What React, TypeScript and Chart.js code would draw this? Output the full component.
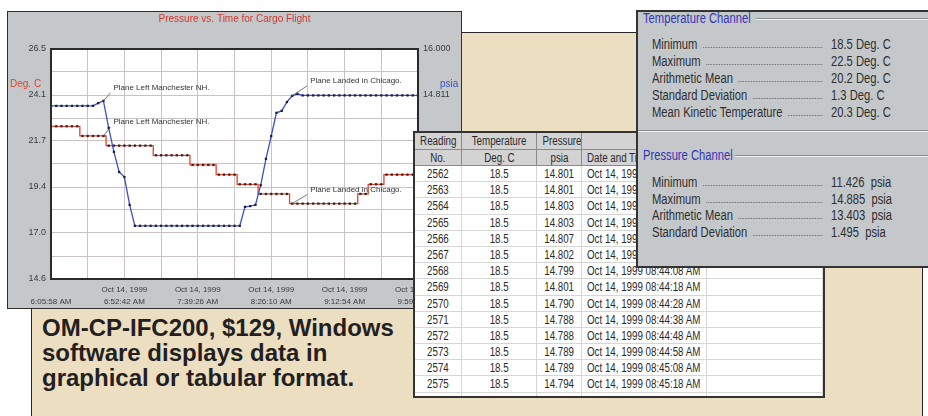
import React, { useEffect, useRef } from "react";
import { Chart, registerables } from "chart.js";

Chart.register(...registerables);

// ---------------- chart data ----------------
const temperatureC = [
  22.5, 22.5, 22.5, 22.5, 22.5, 22.5,
  22.0, 22.0, 22.0, 22.0, 22.0,
  21.5, 21.5, 21.5, 21.5, 21.5, 21.5, 21.5, 21.5, 21.5,
  21.0, 21.0, 21.0, 21.0, 21.0, 21.0, 21.0,
  20.5, 20.5, 20.5, 20.5, 20.5,
  20.0, 20.0, 20.0, 20.0,
  19.5, 19.5, 19.5, 19.5,
  19.0, 19.0, 19.0, 19.0, 19.0, 19.0,
  18.5, 18.5, 18.5, 18.5, 18.5, 18.5, 18.5, 18.5, 18.5, 18.5, 18.5, 18.5, 18.5,
  19.0, 19.0,
  19.5, 19.5, 19.5,
  20.0, 20.0, 20.0, 20.0, 20.0, 20.0, 20.0,
];

const pressurePsia = [
  14.53, 14.53, 14.53, 14.53, 14.53, 14.53, 14.53, 14.53, 14.53,
  14.6, 14.66, 13.96, 13.34, 12.82, 12.69, 11.97,
  11.43, 11.43, 11.43, 11.43, 11.43, 11.43, 11.43, 11.43, 11.43, 11.43, 11.43,
  11.43, 11.43, 11.43, 11.43, 11.43, 11.43, 11.43, 11.43, 11.43, 11.43,
  11.92, 11.94, 11.97, 12.48, 13.16, 13.75, 14.35, 14.4, 14.63, 14.79, 14.84,
  14.8, 14.8, 14.8, 14.8, 14.8, 14.8, 14.8, 14.8, 14.8, 14.8, 14.8, 14.8,
  14.8, 14.8, 14.8, 14.8, 14.8, 14.8, 14.8, 14.8, 14.8, 14.8, 14.8,
];

const xGridSamples = [0, 7, 14, 21, 28, 35, 42, 49, 56, 63, 70];
const xTickDates = ["", "Oct 14, 1999", "Oct 14, 1999", "Oct 14, 1999", "Oct 14, 1999", "Oct 14, 1999"];
const xTickTimes = ["6:05:58 AM", "6:52:42 AM", "7:39:26 AM", "8:26:10 AM", "9:12:54 AM", "9:59:38 AM"];

const leftAxisMin = 14.6;
const leftAxisMax = 26.5;
const leftTickLabels = ["14.6", "17.0", "19.4", "21.7", "24.1", "26.5"];
const rightAxisMin = 10.055;
const rightAxisMax = 16.0;
const rightTickLabels = ["10.055", "11.244", "12.433", "13.622", "14.811", "16.000"];

const chartTitle = "Pressure vs. Time for Cargo Flight";
const leftAxisTitle = "Deg. C";
const rightAxisTitle = "psia";

const annotationTexts = [
  "Plane Left Manchester NH.",
  "Plane Left Manchester NH.",
  "Plane Landed in Chicago.",
  "Plane Landed in Chicago.",
];
const annotationSeries = ["pressure", "temperature", "pressure", "temperature"];
const annotationSample = [10, 10, 46, 46];

// ---------------- table / statistics data ----------------
const readingNos = [2562, 2563, 2564, 2565, 2566, 2567, 2568, 2569, 2570, 2571, 2572, 2573, 2574, 2575, 2576];
const readingTemps = ["18.5", "18.5", "18.5", "18.5", "18.5", "18.5", "18.5", "18.5", "18.5", "18.5", "18.5", "18.5", "18.5", "18.5", "18.5"];
const readingPressures = ["14.801", "14.801", "14.803", "14.803", "14.807", "14.802", "14.799", "14.801", "14.790", "14.788", "14.788", "14.789", "14.789", "14.794", "14.794"];
const readingTimes = [
  "Oct 14, 1999 08:43:08 AM", "Oct 14, 1999 08:43:18 AM", "Oct 14, 1999 08:43:28 AM",
  "Oct 14, 1999 08:43:38 AM", "Oct 14, 1999 08:43:48 AM", "Oct 14, 1999 08:43:58 AM",
  "Oct 14, 1999 08:44:08 AM", "Oct 14, 1999 08:44:18 AM", "Oct 14, 1999 08:44:28 AM",
  "Oct 14, 1999 08:44:38 AM", "Oct 14, 1999 08:44:48 AM", "Oct 14, 1999 08:44:58 AM",
  "Oct 14, 1999 08:45:08 AM", "Oct 14, 1999 08:45:18 AM", "Oct 14, 1999 08:45:28 AM",
];

const tempStatLabels = ["Minimum", "Maximum", "Arithmetic Mean", "Standard Deviation", "Mean Kinetic Temperature"];
const tempStatValues = ["18.5 Deg. C", "22.5 Deg. C", "20.2 Deg. C", "1.3 Deg. C", "20.3 Deg. C"];
const pressStatLabels = ["Minimum", "Maximum", "Arithmetic Mean", "Standard Deviation"];
const pressStatValues = ["11.426  psia", "14.885  psia", "13.403  psia", "1.495  psia"];

const captionLines = ["OM-CP-IFC200, $129, Windows", "software displays data in", "graphical or tabular format."];

// ---------------- styles ----------------
const SANS = '"Liberation Sans", Arial, Helvetica, sans-serif';
const WIN_GRAY = "#c4c8cb";
const GRID = "#cbc3c3";
const TICK = "#3a3a3a";
const annotationOffsets = [[10, -13], [10, -14], [18, -15], [18, -14]];

const decorPlugin = {
  id: "decor",
  beforeDraw(chart: any) {
    const { ctx, chartArea: a } = chart;
    ctx.save();
    ctx.fillStyle = "#ffffff";
    ctx.fillRect(a.left, a.top, a.right - a.left, a.bottom - a.top);
    ctx.restore();
  },
  afterDatasetsDraw(chart: any) {
    const { ctx } = chart;
    const xs = chart.scales.x;
    ctx.save();
    ctx.font = `8px ${SANS}`;
    ctx.textAlign = "left";
    ctx.textBaseline = "middle";
    annotationTexts.forEach((t, k) => {
      const idx = annotationSample[k];
      const isP = annotationSeries[k] === "pressure";
      const ys = isP ? chart.scales.y2 : chart.scales.y;
      const val = isP ? pressurePsia[idx] : temperatureC[idx];
      const px = xs.getPixelForValue(idx);
      const py = ys.getPixelForValue(val);
      const [dx, dy] = annotationOffsets[k];
      ctx.strokeStyle = "#555";
      ctx.lineWidth = 0.8;
      ctx.beginPath();
      ctx.moveTo(px, py);
      ctx.lineTo(px + dx - 3, py + dy + 5);
      ctx.stroke();
      ctx.fillStyle = "#333";
      ctx.fillText(t, px + dx, py + dy);
    });
    ctx.restore();
  },
  afterDraw(chart: any) {
    const { ctx, chartArea: a, width } = chart;
    ctx.save();
    ctx.strokeStyle = "#2a2a2a";
    ctx.lineWidth = 2;
    ctx.strokeRect(a.left, a.top, a.right - a.left, a.bottom - a.top);
    ctx.textBaseline = "middle";
    ctx.font = `10px ${SANS}`;
    ctx.fillStyle = "#d23a2c";
    ctx.textAlign = "center";
    ctx.fillText(chartTitle, width / 2, 7);
    ctx.textAlign = "left";
    ctx.fillStyle = "#e4402a";
    ctx.fillText(leftAxisTitle, 2, 72.5);
    ctx.fillStyle = "#3b4fd0";
    ctx.fillText(rightAxisTitle, 432, 72);
    ctx.restore();
  },
};

function ChartWindow() {
  const ref = useRef<HTMLCanvasElement>(null);
  useEffect(() => {
    Chart.defaults.font.family = SANS;
    const chart = new Chart(ref.current as HTMLCanvasElement, {
      type: "line",
      data: {
        datasets: [
          {
            label: "Pressure",
            data: pressurePsia.map((v, i) => ({ x: i, y: v })),
            yAxisID: "y2",
            borderColor: "#3d4fc6",
            borderWidth: 1.3,
            pointStyle: "rect",
            pointRadius: 1.6,
            pointBorderWidth: 0,
            pointBackgroundColor: "#1c1c3a",
            tension: 0,
          },
          {
            label: "Temperature",
            data: temperatureC.map((v, i) => ({ x: i, y: v })),
            yAxisID: "y",
            borderColor: "#e2442c",
            borderWidth: 1.3,
            stepped: "middle",
            pointStyle: "rect",
            pointRadius: 1.6,
            pointBorderWidth: 0,
            pointBackgroundColor: "#3a1c1c",
          },
        ],
      },
      options: {
        responsive: false,
        animation: false,
        devicePixelRatio: 1,
        events: [],
        layout: { padding: { top: 37, left: 0, right: 0, bottom: 0 } },
        plugins: { legend: { display: false }, tooltip: { enabled: false }, title: { display: false } },
        scales: {
          x: {
            type: "linear",
            min: 0,
            max: 70,
            afterBuildTicks: (s: any) => {
              s.ticks = xGridSamples.map((v) => ({ value: v }));
            },
            afterFit: (s: any) => {
              s.height = 29;
            },
            grid: { color: GRID, lineWidth: 1, drawTicks: false },
            border: { display: false },
            ticks: {
              autoSkip: false,
              maxRotation: 0,
              padding: 5,
              color: TICK,
              font: { size: 8, lineHeight: 1.45 },
              callback: (_v: any, i: number) => (i % 2 === 0 ? [xTickDates[i / 2], xTickTimes[i / 2]] : ""),
            },
          },
          y: {
            type: "linear",
            position: "left",
            min: leftAxisMin,
            max: leftAxisMax,
            afterBuildTicks: (s: any) => {
              s.ticks = Array.from({ length: 11 }, (_, k) => ({ value: leftAxisMin + (k * (leftAxisMax - leftAxisMin)) / 10 }));
            },
            afterFit: (s: any) => {
              s.width = 43;
            },
            grid: { color: GRID, lineWidth: 1, drawTicks: false },
            border: { display: false },
            ticks: {
              padding: 5,
              color: TICK,
              font: { size: 9 },
              callback: (_v: any, i: number) => (i % 2 === 0 ? leftTickLabels[i / 2] : ""),
            },
          },
          y2: {
            type: "linear",
            position: "right",
            min: rightAxisMin,
            max: rightAxisMax,
            afterBuildTicks: (s: any) => {
              s.ticks = Array.from({ length: 11 }, (_, k) => ({ value: rightAxisMin + (k * (rightAxisMax - rightAxisMin)) / 10 }));
            },
            afterFit: (s: any) => {
              s.width = 43;
            },
            grid: { display: false, drawTicks: false },
            border: { display: false },
            ticks: {
              padding: 5,
              color: TICK,
              font: { size: 9 },
              callback: (_v: any, i: number) => (i % 2 === 0 ? rightTickLabels[i / 2] : ""),
            },
          },
        },
      } as any,
      plugins: [decorPlugin],
    });
    return () => chart.destroy();
  }, []);
  return (
    <div
      style={{
        position: "absolute",
        left: 7,
        top: 11,
        width: 453,
        height: 296,
        border: "1px solid #2e2e2e",
        background: WIN_GRAY,
        zIndex: 2,
      }}
    >
      <canvas ref={ref} width={453} height={296} style={{ display: "block", width: 453, height: 296 }} />
    </div>
  );
}

// horizontally condensed text (the screenshot's UI font is narrow and tall)
function Sq({ children, origin }: any) {
  return (
    <span
      style={{
        display: "inline-block",
        transform: "scaleX(0.78)",
        transformOrigin: origin || "center",
        whiteSpace: "pre",
      }}
    >
      {children}
    </span>
  );
}

const colWidths = [47, 75, 45, 125, 116];

function Cell({ w, children, align, bg, h }: any) {
  return (
    <div
      style={{
        width: w,
        height: h,
        lineHeight: `${h}px`,
        boxSizing: "border-box",
        borderRight: bg ? "1px solid #8a8a8a" : "1px solid #d6d6d6",
        borderBottom: bg ? "1px solid #8a8a8a" : "1px solid #d6d6d6",
        background: bg || "#fff",
        textAlign: align || "center",
        paddingLeft: align === "left" ? 5 : 0,
        whiteSpace: "nowrap",
        overflow: "hidden",
        flex: "none",
      }}
    >
      {children !== undefined && children !== "" ? <Sq origin={align === "left" ? "left" : "center"}>{children}</Sq> : null}
    </div>
  );
}

function DataTable() {
  const hdr = "#d3d3d3";
  return (
    <div
      style={{
        position: "absolute",
        left: 413,
        top: 131,
        width: 412,
        height: 267,
        boxSizing: "border-box",
        border: "2px solid #333",
        background: "#fff",
        overflow: "hidden",
        zIndex: 3,
        fontFamily: SANS,
        fontSize: 12.5,
        color: "#2a2a2a",
      }}
    >
      <div style={{ display: "flex" }}>
        <Cell w={colWidths[0]} h={17} bg={hdr}>Reading</Cell>
        <Cell w={colWidths[1]} h={17} bg={hdr}>Temperature</Cell>
        <Cell w={colWidths[2]} h={17} bg={hdr}>Pressure</Cell>
        <Cell w={colWidths[3]} h={17} bg={hdr}></Cell>
        <Cell w={colWidths[4]} h={17} bg={hdr}></Cell>
      </div>
      <div style={{ display: "flex" }}>
        <Cell w={colWidths[0]} h={16} bg={hdr}>No.</Cell>
        <Cell w={colWidths[1]} h={16} bg={hdr}>Deg. C</Cell>
        <Cell w={colWidths[2]} h={16} bg={hdr}>psia</Cell>
        <Cell w={colWidths[3]} h={16} bg={hdr} align="left">Date and Time</Cell>
        <Cell w={colWidths[4]} h={16} bg={hdr}></Cell>
      </div>
      {readingNos.map((n, r) => (
        <div key={n} style={{ display: "flex" }}>
          <Cell w={colWidths[0]} h={16.2}>{String(n)}</Cell>
          <Cell w={colWidths[1]} h={16.2}>{readingTemps[r]}</Cell>
          <Cell w={colWidths[2]} h={16.2}>{readingPressures[r]}</Cell>
          <Cell w={colWidths[3]} h={16.2} align="left">{readingTimes[r]}</Cell>
          <Cell w={colWidths[4]} h={16.2}></Cell>
        </div>
      ))}
    </div>
  );
}

const SX = 0.8;

function StatRow({ top, label, value }: any) {
  return (
    <>
      <div
        style={{
          position: "absolute",
          left: 14,
          top: top - 8,
          width: 170 / SX,
          height: 16,
          display: "flex",
          alignItems: "flex-end",
          transform: `scaleX(${SX})`,
          transformOrigin: "left",
        }}
      >
        <span style={{ whiteSpace: "nowrap", lineHeight: "16px" }}>{label}</span>
        <span style={{ flex: 1, borderBottom: "1px dotted #6a6a6a", margin: "0 0 4px 7px" }} />
      </div>
      <div
        style={{
          position: "absolute",
          left: 193,
          top: top - 8,
          height: 16,
          lineHeight: "16px",
          whiteSpace: "pre",
          transform: `scaleX(${SX})`,
          transformOrigin: "left",
        }}
      >
        {value}
      </div>
    </>
  );
}

function GroupTitle({ top, text, lineLeft }: any) {
  return (
    <>
      <div
        style={{
          position: "absolute",
          left: 5,
          top: top - 8,
          lineHeight: "16px",
          color: "#3434b4",
          whiteSpace: "nowrap",
          transform: `scaleX(${SX})`,
          transformOrigin: "left",
        }}
      >
        {text}
      </div>
      <div
        style={{
          position: "absolute",
          left: lineLeft,
          right: 0,
          top: top,
          height: 0,
          borderTop: "1px solid #8c8f92",
          borderBottom: "1px solid #eef0f2",
        }}
      />
    </>
  );
}

function StatsPanel() {
  return (
    <div
      style={{
        position: "absolute",
        left: 636,
        top: 10,
        width: 310,
        height: 258,
        boxSizing: "border-box",
        border: "2px solid #333",
        background: WIN_GRAY,
        zIndex: 4,
        fontFamily: SANS,
        fontSize: 14,
        color: "#2e2e2e",
      }}
    >
      <GroupTitle top={6} text="Temperature Channel" lineLeft={118} />
      {tempStatLabels.map((l, i) => (
        <StatRow key={l} top={32 + i * 17} label={l} value={tempStatValues[i]} />
      ))}
      <div style={{ position: "absolute", left: 0, right: 0, top: 118, borderTop: "1px solid #8c8f92", borderBottom: "1px solid #eef0f2" }} />
      <GroupTitle top={143} text="Pressure Channel" lineLeft={97} />
      {pressStatLabels.map((l, i) => (
        <StatRow key={l} top={170 + i * 16.7} label={l} value={pressStatValues[i]} />
      ))}
    </div>
  );
}

export default function App() {
  return (
    <div
      style={{
        position: "fixed",
        left: 0,
        top: 0,
        width: 928,
        height: 416,
        background: "#ffffff",
        overflow: "hidden",
        fontFamily: SANS,
      }}
    >
      <div
        style={{
          position: "absolute",
          left: 31,
          top: 32,
          width: 892,
          height: 400,
          boxSizing: "border-box",
          background: "#ecdec1",
          border: "1.5px solid #262626",
          zIndex: 1,
        }}
      />
      <ChartWindow />
      <div
        style={{
          position: "absolute",
          left: 42,
          top: 315,
          zIndex: 2,
          fontFamily: SANS,
          fontWeight: "bold",
          fontSize: 24,
          lineHeight: "25px",
          color: "#231f20",
          whiteSpace: "nowrap",
        }}
      >
        {captionLines.map((l) => (
          <div key={l}>{l}</div>
        ))}
      </div>
      <DataTable />
      <StatsPanel />
    </div>
  );
}
